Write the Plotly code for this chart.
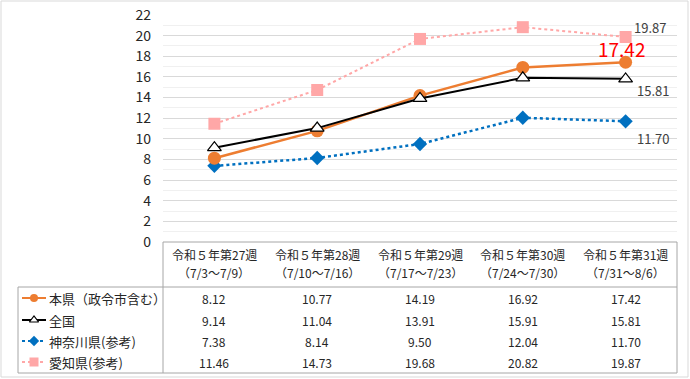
import plotly.graph_objects as go

weeks = ["令和５年第27週", "令和５年第28週", "令和５年第29週", "令和５年第30週", "令和５年第31週"]
periods = ["（7/3～7/9）", "（7/10～7/16）", "（7/17～7/23）", "（7/24～7/30）", "（7/31～8/6）"]
series_names = ["本県（政令市含む）", "全国", "神奈川県(参考)", "愛知県(参考)"]
honken = [8.12, 10.77, 14.19, 16.92, 17.42]
zenkoku = [9.14, 11.04, 13.91, 15.91, 15.81]
kanagawa = [7.38, 8.14, 9.50, 12.04, 11.70]
aichi = [11.46, 14.73, 19.68, 20.82, 19.87]
y_ticks = list(range(0, 23, 2))

W, H = 690, 379
FONT = "Noto Sans CJK JP"
x_idx = list(range(len(weeks)))

# pixel geometry
PL, PR, PT, PB = 163, 677, 15, 242
TABLE_L, HEAD_B, TABLE_B = 18, 287, 373
row_y = [298, 320, 341, 362]

styles = [
    dict(color="#ED7D31", dash="solid", width=2.5, symbol="circle", msize=13, mline="#ED7D31", mfill="#ED7D31"),
    dict(color="#000000", dash="solid", width=2, symbol="triangle-up", msize=12, mline="#000000", mfill="#FFFFFF"),
    dict(color="#0070C0", dash="dot", width=2.5, symbol="diamond", msize=11, mline="#0070C0", mfill="#0070C0"),
    dict(color="#FFA7A7", dash="dot", width=2, symbol="square", msize=12, mline="#FFA7A7", mfill="#FFA7A7"),
]
all_series = [honken, zenkoku, kanagawa, aichi]

fig = go.Figure()
for i in [3, 2, 0, 1]:
    s = styles[i]
    fig.add_trace(go.Scatter(
        x=x_idx, y=all_series[i], mode="lines+markers", name=series_names[i],
        line=dict(color=s["color"], dash=s["dash"], width=s["width"]),
        marker=dict(symbol=s["symbol"], size=s["msize"], color=s["mfill"],
                    line=dict(color=s["mline"], width=1.2 if i == 1 else 0)),
        xaxis="x", yaxis="y", showlegend=False, hoverinfo="skip", cliponaxis=False))

# legend keys inside the table (pixel overlay axis)
for i, s in enumerate(styles):
    fig.add_trace(go.Scatter(
        x=[22, 46], y=[row_y[i], row_y[i]], mode="lines",
        line=dict(color=s["color"], dash=s["dash"], width=2),
        xaxis="x2", yaxis="y2", showlegend=False, hoverinfo="skip"))
    fig.add_trace(go.Scatter(
        x=[34], y=[row_y[i]], mode="markers",
        marker=dict(symbol=s["symbol"], size=8 if i != 3 else 9, color=s["mfill"],
                    line=dict(color=s["mline"], width=1.2 if i == 1 else 0)),
        xaxis="x2", yaxis="y2", showlegend=False, hoverinfo="skip"))

ann = []
for j in x_idx:
    cx = PL + (PR - PL) * (j + 0.5) / len(weeks)
    ann.append(dict(x=cx, y=254, xref="x2", yref="y2", text=weeks[j], showarrow=False,
                    font=dict(size=12, color="#262626", family=FONT)))
    ann.append(dict(x=cx, y=272, xref="x2", yref="y2", text=periods[j], showarrow=False,
                    font=dict(size=12, color="#262626", family=FONT)))
    for i, ser in enumerate(all_series):
        ann.append(dict(x=cx, y=row_y[i], xref="x2", yref="y2", text=f"{ser[j]:.2f}",
                        showarrow=False, font=dict(size=12, color="#262626", family=FONT)))
for i, nm in enumerate(series_names):
    ann.append(dict(x=47, y=row_y[i], xref="x2", yref="y2", text=nm, showarrow=False,
                    xanchor="left", font=dict(size=13, color="#262626", family=FONT)))

last = len(weeks) - 1
ann.append(dict(x=last, y=aichi[last], xref="x", yref="y", text=f"{aichi[last]:.2f}",
                showarrow=False, xanchor="left", xshift=6, yshift=9,
                font=dict(size=13, color="#404040", family=FONT)))
ann.append(dict(x=last, y=honken[last], xref="x", yref="y", text=f"{honken[last]:.2f}",
                showarrow=False, yshift=14, xshift=-4,
                font=dict(size=19, color="#FF0000", family=FONT)))
ann.append(dict(x=last, y=zenkoku[last], xref="x", yref="y", text=f"{zenkoku[last]:.2f}",
                showarrow=False, xanchor="left", xshift=9, yshift=-12,
                font=dict(size=13, color="#404040", family=FONT)))
ann.append(dict(x=last, y=kanagawa[last], xref="x", yref="y", text=f"{kanagawa[last]:.2f}",
                showarrow=False, xanchor="left", xshift=9, yshift=-17,
                font=dict(size=13, color="#404040", family=FONT)))

border = "#A6A6A6"
def hline(x0, x1, y):
    return dict(type="line", xref="x2", yref="y2", x0=x0, x1=x1, y0=y, y1=y, line=dict(color=border, width=1))
def vline(x, y0, y1):
    return dict(type="line", xref="x2", yref="y2", x0=x, x1=x, y0=y0, y1=y1, line=dict(color=border, width=1))

shapes = [
    dict(type="rect", xref="x2", yref="y2", x0=1, x1=688, y0=1, y1=377,
         line=dict(color="#D9D9D9", width=1), layer="below"),
    hline(PL, PR, PB), vline(PL, PB, TABLE_B), vline(PR, PB, TABLE_B),
    hline(TABLE_L, PR, HEAD_B), hline(TABLE_L, PR, TABLE_B), vline(TABLE_L, HEAD_B, TABLE_B),
]

fig.update_layout(
    width=W, height=H, margin=dict(l=0, r=0, t=0, b=0, autoexpand=False),
    paper_bgcolor="white", plot_bgcolor="rgba(0,0,0,0)",
    font=dict(family=FONT, color="#404040"),
    xaxis=dict(domain=[PL / W, PR / W], range=[-0.5, len(weeks) - 0.5], showgrid=False,
               zeroline=False, showticklabels=False, ticks="", showline=False, anchor="y"),
    yaxis=dict(domain=[1 - PB / H, 1 - PT / H], range=[0, 22], tickvals=y_ticks,
               showgrid=True, gridcolor="#D9D9D9", gridwidth=1, zeroline=False,
               ticks="", ticklabelstandoff=11, tickfont=dict(size=14, color="#262626", family=FONT),
               minor=dict(dtick=1, showgrid=True, gridcolor="#F0F0F0", gridwidth=1), anchor="x"),
    xaxis2=dict(domain=[0, 1], range=[0, W], visible=False, anchor="y2"),
    yaxis2=dict(domain=[0, 1], range=[H, 0], visible=False, anchor="x2"),
    annotations=ann, shapes=shapes,
)

fig.write_html("out.html", config={"displayModeBar": False},
               post_script="document.body.style.margin='0px';document.body.style.overflow='hidden';")
